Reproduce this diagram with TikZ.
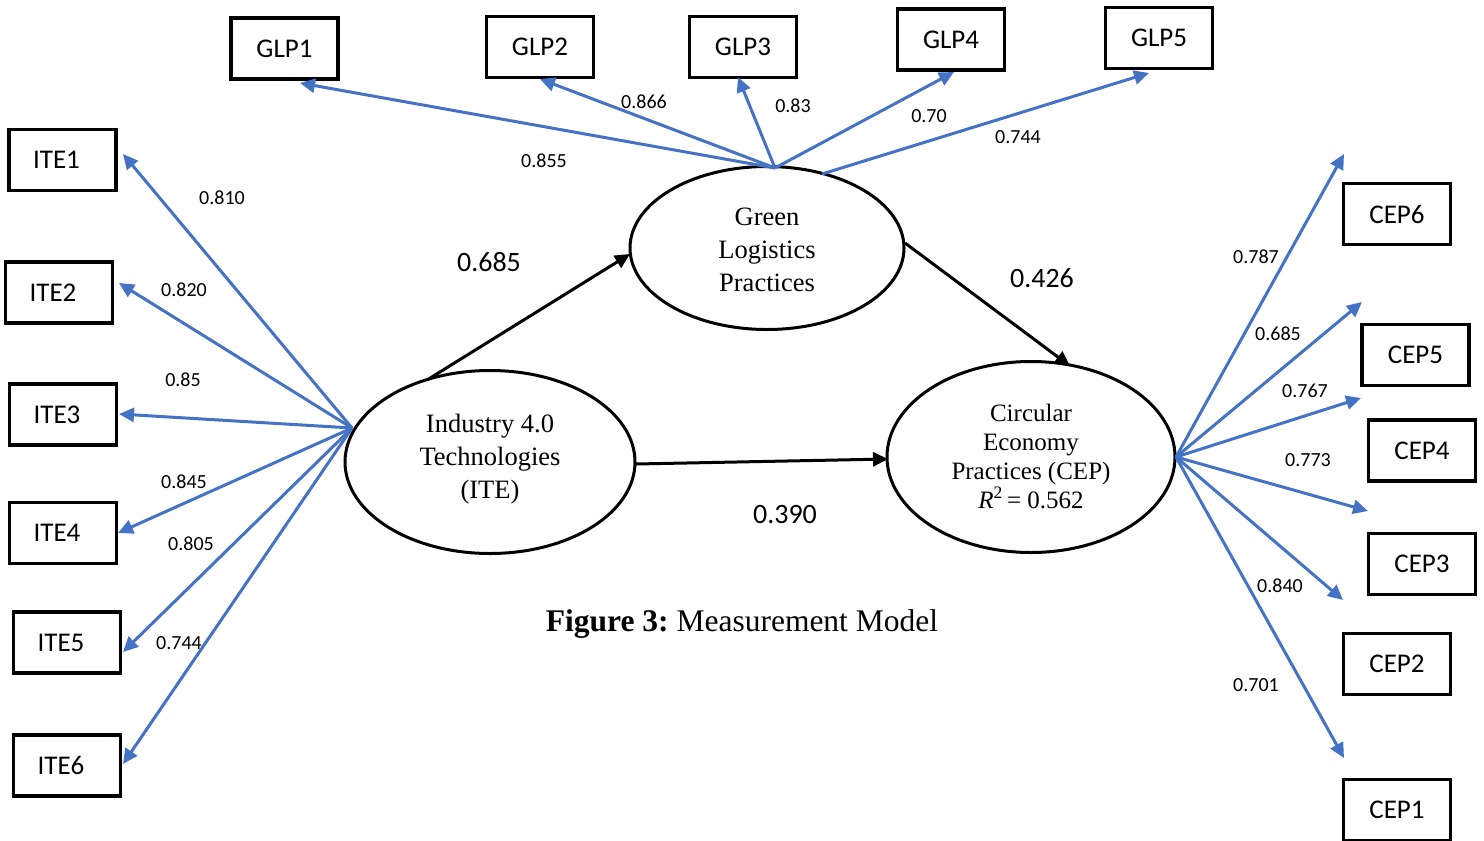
\documentclass[tikz,border=0pt]{standalone}
\usepackage{fontspec}
\setmainfont{Liberation Serif}
\newfontfamily\calib{Carlito}
\usetikzlibrary{arrows.meta,shapes.geometric}
\definecolor{lblue}{RGB}{68,114,196}
\frenchspacing
\begin{document}
\begin{tikzpicture}[x=1pt,y=-1pt,
  ind/.style={draw,line width=3.5pt,minimum width=107pt,minimum height=61pt,inner sep=0pt,font=\calib\fontsize{27}{30}\selectfont},
  lat/.style={draw,ellipse,line width=3pt,inner sep=0pt,align=center},
  load/.style={draw=lblue,line width=3pt,-{Triangle[length=15pt,width=14pt]}},
  path/.style={draw=black,line width=3pt,-{Triangle[length=15pt,width=14pt]}},
  sl/.style={font=\calib\fontsize{20}{22}\selectfont,inner sep=0pt},
  bl/.style={font=\calib\fontsize{28}{30}\selectfont,inner sep=0pt}]
\useasboundingbox (0,0) rectangle (1484,841);

% latent variables
\node[lat,minimum width=290pt,minimum height=183pt] (ite) at (490,462) {};
\node[align=center,inner sep=0pt,font=\fontsize{26.5}{33}\selectfont] (itet) at (490,459) {Industry 4.0\\Technologies\\(ITE)};
\node[lat,minimum width=274pt,minimum height=163pt] (glp) at (767,248) {};
\node[align=center,inner sep=0pt,font=\fontsize{26.5}{33}\selectfont] (glpt) at (767,250) {Green\\Logistics\\Practices};
\node[lat,minimum width=288pt,minimum height=191pt] (cep) at (1031,457) {};
\node[align=center,inner sep=0pt,font=\fontsize{25}{29}\selectfont] (cept) at (1031,456) {Circular\\Economy\\Practices (CEP)\\\textit{R}\textsuperscript{2}\,= 0.562};

% indicators
\node[ind] (ite1) at (62.5,160) {ITE1\kern12pt};
\node[ind] (ite2) at (59,292.5) {ITE2\kern12pt};
\node[ind] (ite3) at (63,414.5) {ITE3\kern12pt};
\node[ind] (ite4) at (63,533) {ITE4\kern12pt};
\node[ind] (ite5) at (67,642.5) {ITE5\kern12pt};
\node[ind] (ite6) at (67,765.5) {ITE6\kern12pt};

\node[ind] (glp1) at (284.5,48.5) {GLP1};
\node[ind] (glp2) at (540,47) {GLP2};
\node[ind] (glp3) at (743,47) {GLP3};
\node[ind] (glp4) at (951,39.5) {GLP4};
\node[ind] (glp5) at (1159,38) {GLP5};

\node[ind] (cep6) at (1397,214) {CEP6};
\node[ind] (cep5) at (1415.5,355) {CEP5};
\node[ind] (cep4) at (1422,450.5) {CEP4};
\node[ind] (cep3) at (1422,564) {CEP3};
\node[ind] (cep2) at (1397,664) {CEP2};
\node[ind] (cep1) at (1397,810) {CEP1};

% fan origins and free ends
\coordinate (iteo) at (352,428);
\coordinate (glpo) at (775,168);
\coordinate (glpo5) at (822,174);
\coordinate (cepo) at (1176,457);
\coordinate (t1) at (1344,154);
\coordinate (t2) at (1362,302);
\coordinate (t3) at (1361,398);
\coordinate (t4) at (1368,511);
\coordinate (t5) at (1343,600);
\coordinate (t6) at (1344,758);

% ITE loadings
\draw[load] (iteo) -- (123,154);
\draw[load] (iteo) -- (119,283);
\draw[load] (iteo) -- (119,414);
\draw[load] (iteo) -- (118,533);
\draw[load] (iteo) -- (123,652);
\draw[load] (iteo) -- (123,764);

% GLP loadings
\draw[load] (glpo) -- (300,83);
\draw[load] (glpo) -- (540,79);
\draw[load] (glpo) -- (738,77);
\draw[load] (glpo) -- (954,72);
\draw[load] (glpo5) -- (1149,73);

% CEP loadings
\draw[load] (cepo) -- (t1);
\draw[load] (cepo) -- (t2);
\draw[load] (cepo) -- (t3);
\draw[load] (cepo) -- (t4);
\draw[load] (cepo) -- (t5);
\draw[load] (cepo) -- (t6);

% structural paths
\draw[path] (427,380) -- (630,254);
\draw[path] (905,243) -- (1070,366);
\draw[path] (636,464) -- (888,459);

% loading labels
\node[sl] (l1) at (222,198) {0.810};
\node[sl] (l2) at (184,290) {0.820};
\node[sl] (l3) at (183,380) {0.85};
\node[sl] (l4) at (184,482) {0.845};
\node[sl] (l5) at (191,544) {0.805};
\node[sl] (l6) at (179,643) {0.744};

\node[sl] (g1) at (544,161) {0.855};
\node[sl] (g2) at (644,102) {0.866};
\node[sl] (g3) at (793,106) {0.83};
\node[sl] (g4) at (929,116) {0.70};
\node[sl] (g5) at (1018,137) {0.744};

\node[sl] (c6) at (1256,257) {0.787};
\node[sl] (c5) at (1278,334) {0.685};
\node[sl] (c4) at (1305,391) {0.767};
\node[sl] (c3) at (1308,460) {0.773};
\node[sl] (c2) at (1280,586) {0.840};
\node[sl] (c1) at (1256,685) {0.701};

% path labels
\node[bl] (p1) at (489,262) {0.685};
\node[bl] (p2) at (1042,278) {0.426};
\node[bl] (p3) at (785,515) {0.390};

% caption
\node[inner sep=0pt,font=\fontsize{31.5}{34}\selectfont] (cap) at (742,624) {\textbf{Figure 3:} Measurement Model};
\end{tikzpicture}
\end{document}
